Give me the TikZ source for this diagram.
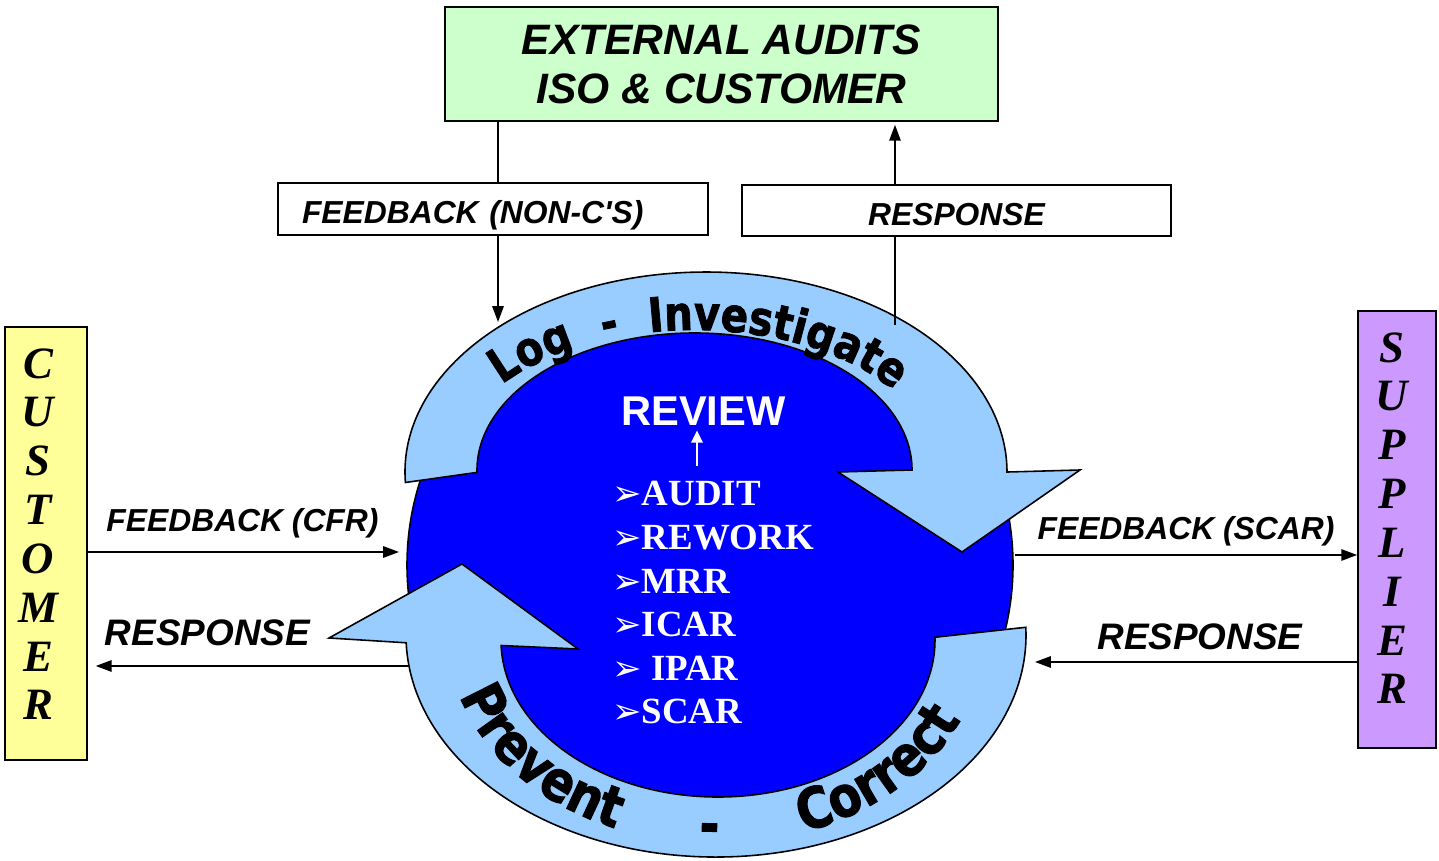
\documentclass[tikz,border=0pt]{standalone}
\usepackage{fontspec}
\setmainfont{Liberation Sans}[Ligatures=TeXOff]
\newfontfamily\serifbi{Liberation Serif}
\newfontfamily\dvs{DejaVu Sans}
\newfontfamily\ringfont{DejaVu Sans}[BoldFeatures={FakeBold=1.6,FakeStretch=0.85}]
\usetikzlibrary{arrows.meta,decorations.text}
\definecolor{ringblue}{HTML}{99CCFF}
\definecolor{coreblue}{HTML}{0000FF}
\definecolor{extgreen}{HTML}{CCFFCC}
\definecolor{custyellow}{HTML}{FFFF99}
\definecolor{supviolet}{HTML}{CC99FF}
\newcommand\bul{{\dvs\fontsize{20pt}{20pt}\selectfont ➢}}
\begin{document}
\begin{tikzpicture}[x=0.02cm,y=0.02cm,
 box/.style={draw=black, line width=1pt, inner sep=0pt},
 lbl/.style={font=\bfseries\itshape\fontsize{18.1pt}{21pt}\selectfont, inner sep=0pt},
 biglbl/.style={font=\bfseries\itshape\fontsize{21pt}{24pt}\selectfont, inner sep=0pt},
 arr/.style={line width=0.85pt, -{Triangle[length=9pt,width=6.5pt]}},
 conn/.style={line width=0.85pt},
 ring/.style={fill=ringblue, draw=black, line width=0.9pt},
 vert/.style={font=\serifbi\bfseries\itshape\fontsize{25.5pt}{27.8pt}\selectfont, align=center, inner sep=0pt, anchor=north},
 item/.style={font=\serifbi\bfseries\fontsize{21pt}{24pt}\selectfont, text=white, inner sep=0pt, anchor=base west}
]
\useasboundingbox (0,0) rectangle (1439,861);

% central blue ellipse
\path[draw=black, line width=0.9pt, fill=coreblue] (710,296) ellipse [x radius=303, y radius=288];

% top circular arrow
\path[ring] (405.4,378.5) arc[start angle=183, end angle=0, x radius=301, y radius=200]
  -- (1080,391) -- (962,309) -- (838,389) -- (912,391)
  arc[start angle=0, end angle=181, x radius=217.5, y radius=137] -- cycle;

% bottom circular arrow
\path[ring] (1025.8,233.7) arc[start angle=2, end angle=-178, x radius=310, y radius=222]
  -- (329,223) -- (462,297) -- (578,212) -- (501.1,215.5)
  arc[start angle=-178, end angle=1, x radius=217, y radius=157] -- cycle;

% curved texts
\path[decorate, decoration={text along path, text align={fit to path stretching spaces},
  text={|\ringfont\bfseries\fontsize{27pt}{30pt}\selectfont|Log - Investigate}}]
  (501.7,476.4) arc[start angle=142, end angle=35, x radius=244, y radius=142];
\path[decorate, decoration={text along path, text align={fit to path stretching spaces},
  text={|\ringfont\bfseries\fontsize{32pt}{35pt}\selectfont|Prevent - Correct}}]
  (459.7,165.2) arc[start angle=197, end angle=336, x radius=268, y radius=209];

% inner texts
\node[font=\bfseries\fontsize{23.7pt}{26pt}\selectfont, text=white, inner sep=0pt, anchor=base] (review) at (703.5,435) {REVIEW};
\coordinate (revFoot) at (697,395);
\draw[white, line width=1.2pt, -{Triangle[length=7pt,width=6.5pt]}, shorten >=2.3pt] (revFoot) -- (revFoot |- review.south);
\node[item] (i1) at (612,355) {\bul AUDIT};
\node[item] (i2) at (612,311.4) {\bul REWORK};
\node[item] (i3) at (612,267.8) {\bul MRR};
\node[item] (i4) at (612,224.2) {\bul ICAR};
\node[item] (i5) at (612,180.6) {\bul\ IPAR};
\node[item] (i6) at (612,137) {\bul SCAR};

% boxes
\node[box, fill=extgreen, minimum width=11.06cm, minimum height=2.28cm, align=center,
  font=\bfseries\itshape\fontsize{24.2pt}{27.8pt}\selectfont] (ext) at (721.5,797)
  {EXTERNAL AUDITS\\ISO \& CUSTOMER};
\node[box, fill=white, text width=7.64cm, inner xsep=0.48cm, minimum height=1.04cm, align=left,
  text height=0.6cm, text depth=0pt,
  font=\bfseries\itshape\fontsize{18.1pt}{21pt}\selectfont] (fbnc) at (493,652) {FEEDBACK (NON-C'S)};
\node[box, fill=white, minimum width=8.58cm, minimum height=1.02cm, text height=0.62cm, text depth=0pt,
  font=\bfseries\itshape\fontsize{18.1pt}{21pt}\selectfont] (resp) at (956.5,650.5) {RESPONSE};
\node[box, fill=custyellow, minimum width=1.64cm, minimum height=8.66cm] (cust) at (46,317.5) {};
\node[vert] (custtxt) at (38,513) {C\\U\\S\\T\\O\\M\\E\\R};
\node[box, fill=supviolet, minimum width=1.56cm, minimum height=8.74cm] (sup) at (1397,331.5) {};
\node[vert] (suptxt) at (1392,529) {S\\U\\P\\P\\L\\I\\E\\R};

% top connectors
\coordinate (fbIn) at (498,539);
\draw[conn] (ext.south -| fbIn) -- (fbnc.north -| fbIn);
\draw[arr] (fbnc.south -| fbIn) -- (fbIn);
\coordinate (rsOut) at (895,536);
\draw[conn] (rsOut) -- (resp.south -| rsOut);
\draw[arr, shorten >=1.7pt] (resp.north -| rsOut) -- (ext.south -| rsOut);

% left side
\node[lbl, anchor=base] (cfr) at (242.5,329) {FEEDBACK (CFR)};
\coordinate (cfrTip) at (399,309);
\draw[arr] (cust.east |- cfrTip) -- (cfrTip);
\node[biglbl, anchor=base] (crs) at (207.5,215) {RESPONSE};
\coordinate (crsStart) at (409,195);
\draw[arr, shorten >=4.5pt] (crsStart) -- (cust.east |- crsStart);

% right side
\node[lbl, anchor=base] (scar) at (1186,321) {FEEDBACK (SCAR)};
\coordinate (scarStart) at (1015,306);
\draw[arr] (scarStart) -- (sup.west |- scarStart);
\node[biglbl, anchor=base] (srs) at (1200,211) {RESPONSE};
\coordinate (srsTip) at (1035,199);
\draw[arr] (sup.west |- srsTip) -- (srsTip);
\end{tikzpicture}
\end{document}
